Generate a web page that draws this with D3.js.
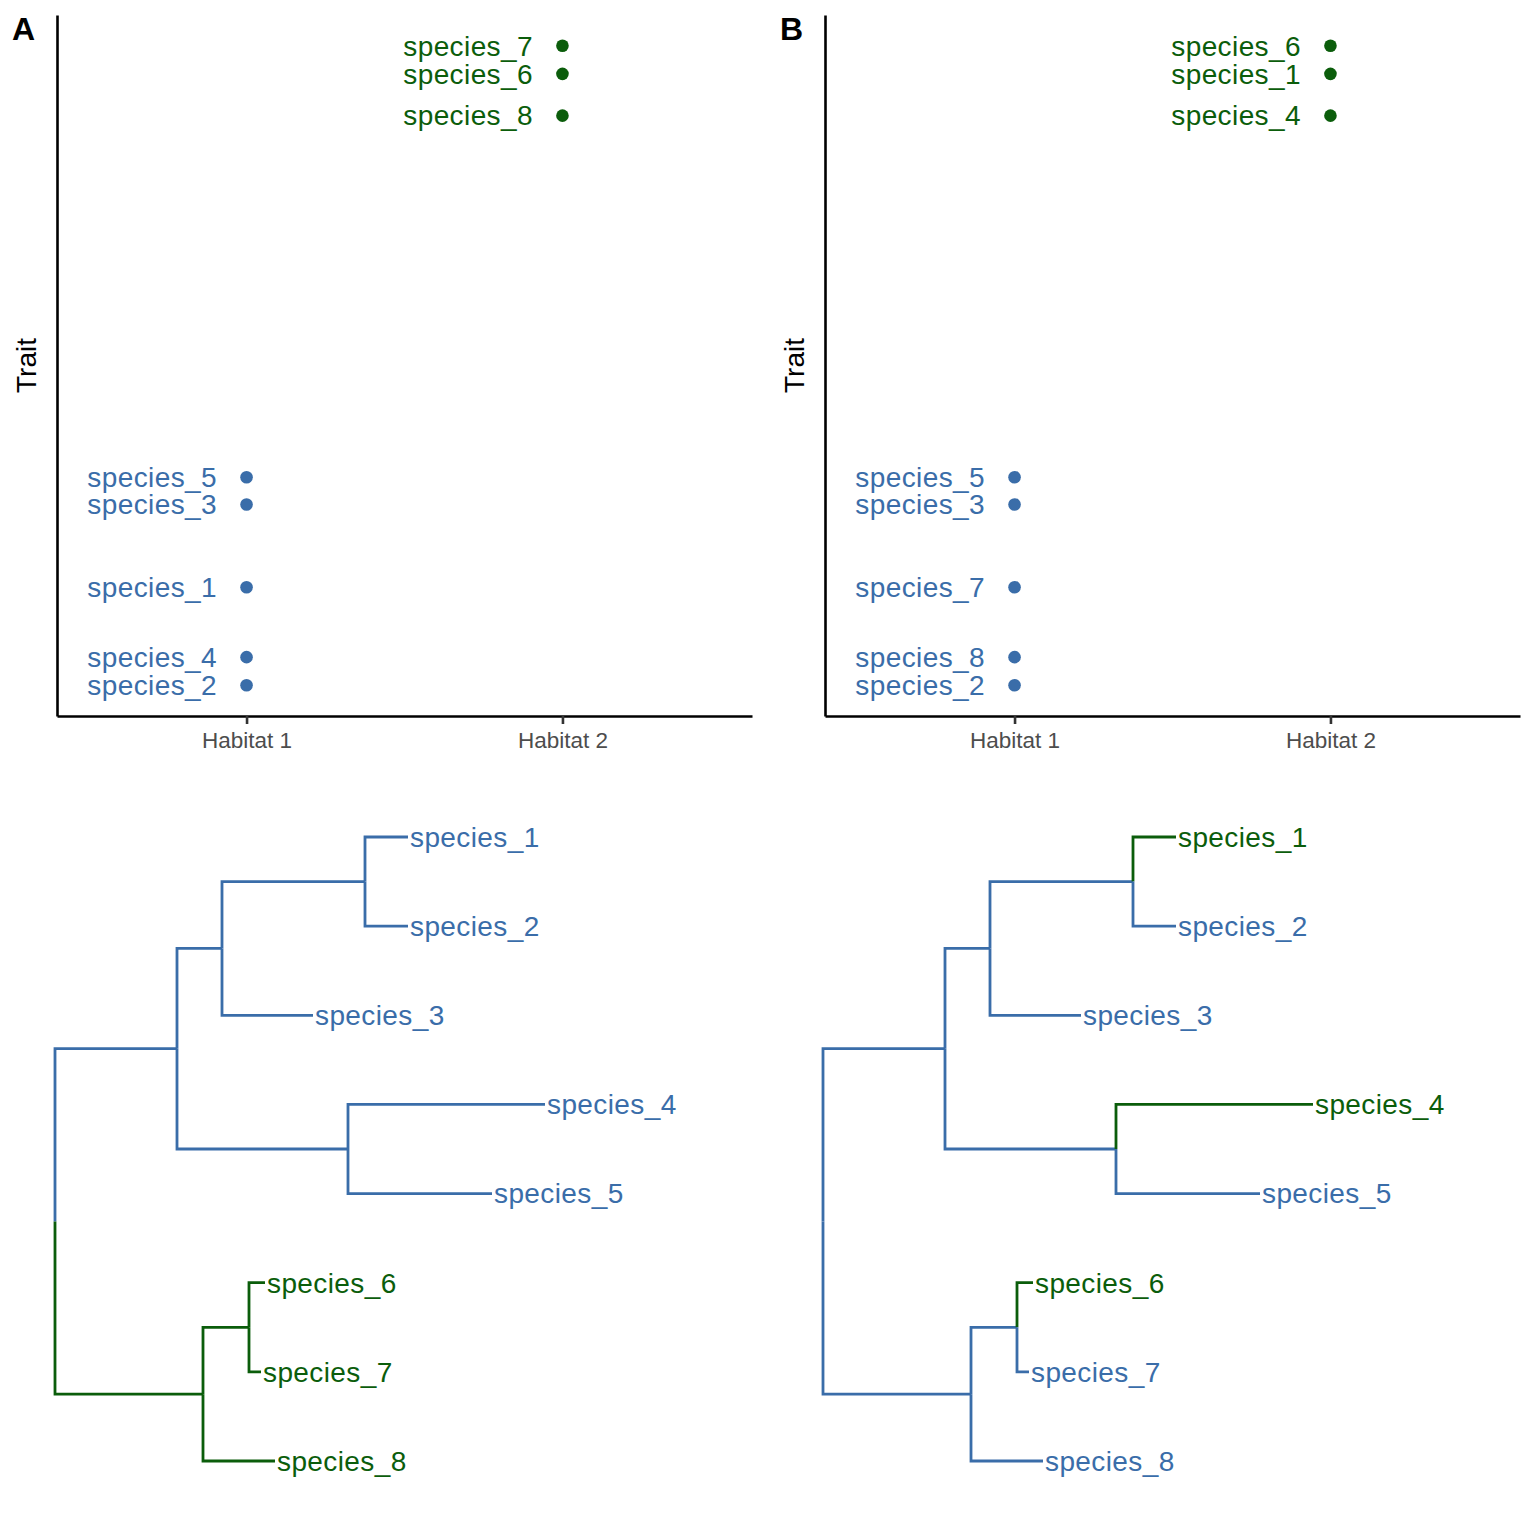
<!DOCTYPE html>
<html>
<head>
<meta charset="utf-8">
<script src="https://cdn.jsdelivr.net/npm/d3@7"></script>
<style>
  html, body { margin: 0; padding: 0; background: #fff; }
  svg { display: block; font-family: "Liberation Sans", Arial, Helvetica, sans-serif; }
</style>
</head>
<body>
<svg id="chart" width="1536" height="1536"></svg>
<script>
// ---------------- DATA ----------------
const species = ["species_1","species_2","species_3","species_4","species_5","species_6","species_7","species_8"];
const habitats = ["Habitat 1","Habitat 2"];
const panelLabels = ["A","B"];

// Panel A: trait value and habitat per species (species_1 .. species_8)
const traitA   = [2.15, 1.00, 3.12, 1.33, 3.44, 8.17, 8.50, 7.68];
const habitatA = ["Habitat 1","Habitat 1","Habitat 1","Habitat 1","Habitat 1","Habitat 2","Habitat 2","Habitat 2"];
// Panel B
const traitB   = [8.17, 1.00, 3.12, 7.68, 3.44, 8.50, 2.15, 1.33];
const habitatB = ["Habitat 2","Habitat 1","Habitat 1","Habitat 2","Habitat 1","Habitat 2","Habitat 1","Habitat 1"];

// Phylogeny (same topology in both panels)
const treeNodeIds   = ["root","n1","n2","n3","n4","n5","n6",
                       "species_1","species_2","species_3","species_4","species_5","species_6","species_7","species_8"];
const treeParentIds = [null,"root","n1","n2","n1","root","n5",
                       "n3","n3","n2","n4","n4","n6","n6","n5"];
const branchLengths = [0, 1.22, 0.45, 1.43, 1.71, 1.48, 0.46,
                       0.43, 0.43, 0.91, 1.97, 1.44, 0.16, 0.12, 0.72];
// reconstructed habitat of internal nodes
const internalHabitatA = {root:"Habitat 1", n1:"Habitat 1", n2:"Habitat 1", n3:"Habitat 1", n4:"Habitat 1", n5:"Habitat 2", n6:"Habitat 2"};
const internalHabitatB = {root:"Habitat 1", n1:"Habitat 1", n2:"Habitat 1", n3:"Habitat 1", n4:"Habitat 1", n5:"Habitat 1", n6:"Habitat 1"};

// ---------------- STYLE ----------------
const colour = d3.scaleOrdinal().domain(habitats).range(["#3A6DA9", "#0B5D0B"]);
const labelFont = 28;
const labelSpacing = 0.4;
const svg = d3.select("#chart");

const panels = [
  {trait: traitA, habitat: habitatA, internal: internalHabitatA, label: panelLabels[0], dx: 0},
  {trait: traitB, habitat: habitatB, internal: internalHabitatB, label: panelLabels[1], dx: 768}
];

panels.forEach(p => {
  const g = svg.append("g").attr("transform", `translate(${p.dx},0)`);

  // ---- scatter ----
  const left = 57, right = 752, top = 15, bottom = 716;
  const x = d3.scalePoint().domain(habitats).range([left, right]).padding(0.6);
  const ext = d3.extent(p.trait);
  const span = ext[1] - ext[0];
  const y = d3.scaleLinear().domain([ext[0] - 0.048*span, ext[1] + 0.048*span]).range([bottom, top]);

  const xAxis = g.append("g").attr("transform", `translate(0,${bottom})`)
    .call(d3.axisBottom(x).tickSize(8).tickSizeOuter(0).tickPadding(8));
  xAxis.select(".domain").attr("stroke", "#000").attr("stroke-width", 2.6);
  xAxis.selectAll(".tick line").attr("stroke", "#333").attr("stroke-width", 2.6);
  xAxis.selectAll(".tick text").attr("fill", "#4D4D4D").attr("font-size", 22.5)
    .attr("font-family", "Liberation Sans, Arial, sans-serif");

  const yAxis = g.append("g").attr("transform", `translate(${left},0)`)
    .call(d3.axisLeft(y).tickValues([]).tickSizeOuter(0));
  yAxis.select(".domain").attr("stroke", "#000").attr("stroke-width", 2.6);

  g.append("text")
    .attr("transform", `translate(${left - 21},${(top + bottom) / 2}) rotate(-90)`)
    .attr("text-anchor", "middle").attr("font-size", 28).attr("fill", "#000")
    .text("Trait");

  g.append("text").attr("x", 12).attr("y", 40)
    .attr("font-size", 32).attr("font-weight", "bold").attr("fill", "#000")
    .text(p.label);

  const pts = species.map((s, i) => ({name: s, trait: p.trait[i], habitat: p.habitat[i]}));
  g.selectAll("circle.pt").data(pts).join("circle")
    .attr("class", "pt")
    .attr("cx", d => x(d.habitat)).attr("cy", d => y(d.trait)).attr("r", 6.3)
    .attr("fill", d => colour(d.habitat));
  g.selectAll("text.ptlab").data(pts).join("text")
    .attr("class", "ptlab")
    .attr("x", d => x(d.habitat) - 29.5).attr("y", d => y(d.trait)).attr("dy", "0.35em")
    .attr("text-anchor", "end").attr("font-size", labelFont)
    .attr("letter-spacing", labelSpacing)
    .attr("fill", d => colour(d.habitat))
    .text(d => d.name);

  // ---- tree ----
  const table = treeNodeIds.map((id, i) => ({id, parent: treeParentIds[i], len: branchLengths[i]}));
  const root = d3.stratify().id(d => d.id).parentId(d => d.parent)(table);
  root.eachBefore(n => { n.depthLen = n.parent ? n.parent.depthLen + n.data.len : 0; });
  const leaves = root.leaves();
  leaves.forEach((l, i) => l.yIndex = i);
  root.eachAfter(n => { if (n.children) n.yIndex = d3.mean(n.children, c => c.yIndex); });

  const tx = d3.scaleLinear().domain([0, d3.max(leaves, l => l.depthLen)]).range([55, 545]);
  const ty = d3.scaleLinear().domain([0, leaves.length - 1]).range([837, 1461]);
  const nodeHab = n => n.children ? p.internal[n.id] : p.habitat[species.indexOf(n.id)];

  const links = root.descendants().filter(n => n.parent);
  g.selectAll("path.branch").data(links).join("path")
    .attr("class", "branch")
    .attr("d", n => `M${tx(n.parent.depthLen)},${ty(n.parent.yIndex)}V${ty(n.yIndex)}H${tx(n.depthLen)}`)
    .attr("fill", "none")
    .attr("stroke", n => colour(nodeHab(n)))
    .attr("stroke-width", 2.8)
    .attr("stroke-linejoin", "miter");

  g.selectAll("text.tip").data(leaves).join("text")
    .attr("class", "tip")
    .attr("x", n => tx(n.depthLen) + 2).attr("y", n => ty(n.yIndex)).attr("dy", "0.35em")
    .attr("font-size", labelFont)
    .attr("letter-spacing", labelSpacing)
    .attr("fill", n => colour(nodeHab(n)))
    .text(n => n.id);
});
</script>
</body>
</html>
